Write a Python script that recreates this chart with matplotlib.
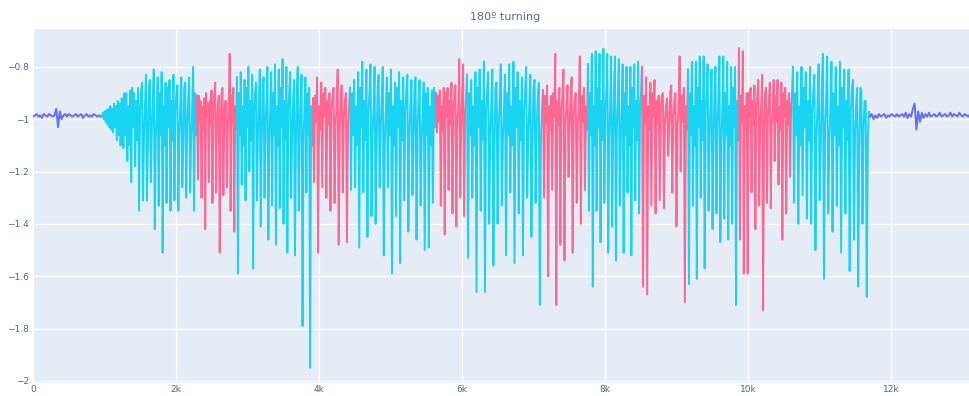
import numpy as np
import matplotlib.pyplot as plt

# segment edges (sample index) and colour of each segment between them
seg_edges = [1250, 2294, 2853, 3916, 4434, 5636, 6070, 7133, 7762, 8517, 9161, 9874, 10629, 11706]
seg_kind = ['cyan', 'pink', 'cyan', 'pink', 'cyan', 'pink', 'cyan', 'pink', 'cyan', 'pink', 'cyan', 'pink', 'cyan']

# spike troughs and peaks, one list per segment
troughs = [
    [-1.11, -1.16, -1.24, -1.18, -1.35, -1.31, -1.31, -1.24, -1.42, -1.33, -1.51, -1.32, -1.35, -1.31, -1.35, -1.26, -1.30, -1.28, -1.35],
    [-1.23, -1.30, -1.42, -1.24, -1.32, -1.28, -1.51, -1.29, -1.26, -1.35, -1.43],
    [-1.59, -1.25, -1.31, -1.20, -1.57, -1.31, -1.41, -1.30, -1.46, -1.33, -1.48, -1.34, -1.40, -1.51, -1.30, -1.52, -1.35, -1.79, -1.28, -1.95],
    [-1.24, -1.51, -1.26, -1.30, -1.35, -1.32, -1.48, -1.28, -1.47],
    [-1.27, -1.26, -1.49, -1.28, -1.45, -1.37, -1.40, -1.26, -1.52, -1.26, -1.59, -1.37, -1.55, -1.31, -1.43, -1.29, -1.46, -1.33, -1.50, -1.49, -1.32],
    [-1.05, -1.33, -1.44, -1.27, -1.36, -1.41, -1.30, -1.37],
    [-1.53, -1.30, -1.66, -1.35, -1.66, -1.40, -1.56, -1.40, -1.33, -1.52, -1.28, -1.55, -1.36, -1.52, -1.30, -1.45, -1.32, -1.71],
    [-1.30, -1.60, -1.27, -1.71, -1.48, -1.54, -1.22, -1.51, -1.32, -1.40, -1.27],
    [-1.35, -1.64, -1.35, -1.47, -1.32, -1.51, -1.41, -1.54, -1.33, -1.51, -1.28, -1.52, -1.31, -1.36],
    [-1.64, -1.67, -1.33, -1.36, -1.31, -1.34, -1.14, -1.28, -1.41, -1.20, -1.70],
    [-1.63, -1.33, -1.61, -1.30, -1.57, -1.35, -1.42, -1.36, -1.47, -1.38, -1.46, -1.40, -1.71],
    [-1.46, -1.59, -1.59, -1.28, -1.42, -1.33, -1.73, -1.32, -1.34, -1.16, -1.25, -1.46, -1.36, -1.22],
    [-1.32, -1.40, -1.29, -1.38, -1.40, -1.50, -1.31, -1.61, -1.36, -1.43, -1.33, -1.51, -1.36, -1.58, -1.46, -1.64, -1.40, -1.68],
]
peaks = [
    [-0.93, -0.90, -0.89, -0.90, -0.88, -0.86, -0.83, -0.85, -0.81, -0.84, -0.82, -0.86, -0.85, -0.83, -0.87, -0.84, -0.86, -0.84, -0.80],
    [-0.91, -0.93, -0.92, -0.94, -0.89, -0.86, -0.91, -0.88, -0.93, -0.75, -0.88],
    [-0.84, -0.82, -0.85, -0.80, -0.83, -0.86, -0.81, -0.84, -0.80, -0.82, -0.79, -0.81, -0.77, -0.80, -0.82, -0.85, -0.80, -0.83, -0.84, -0.88],
    [-0.92, -0.84, -0.86, -0.88, -0.90, -0.88, -0.81, -0.87, -0.90],
    [-0.88, -0.85, -0.82, -0.78, -0.81, -0.79, -0.80, -0.83, -0.80, -0.84, -0.81, -0.86, -0.82, -0.84, -0.83, -0.85, -0.84, -0.85, -0.86, -0.88, -0.89],
    [-0.90, -0.89, -0.88, -0.88, -0.86, -0.87, -0.77, -0.79],
    [-0.83, -0.85, -0.82, -0.81, -0.78, -0.82, -0.81, -0.86, -0.79, -0.83, -0.79, -0.78, -0.82, -0.84, -0.80, -0.83, -0.85, -0.86],
    [-0.89, -0.87, -0.91, -0.75, -0.88, -0.81, -0.87, -0.84, -0.90, -0.76, -0.88],
    [-0.79, -0.75, -0.74, -0.75, -0.73, -0.75, -0.76, -0.76, -0.77, -0.79, -0.80, -0.80, -0.79, -0.78],
    [-0.80, -0.84, -0.86, -0.85, -0.91, -0.90, -0.92, -0.87, -0.90, -0.76, -0.88],
    [-0.81, -0.78, -0.78, -0.76, -0.76, -0.79, -0.81, -0.80, -0.76, -0.76, -0.78, -0.80, -0.80],
    [-0.73, -0.74, -0.90, -0.88, -0.87, -0.85, -0.83, -0.88, -0.86, -0.85, -0.85, -0.86, -0.88, -0.90],
    [-0.80, -0.82, -0.80, -0.82, -0.80, -0.83, -0.79, -0.75, -0.76, -0.78, -0.80, -0.78, -0.81, -0.81, -0.85, -0.88, -0.89, -0.93],
]

# wiggles between spikes, used two at a time and running on through a segment
band = {
    'cyan': [-0.90, -1.06, -0.95, -1.10, -0.88, -1.03, -0.93, -1.08, -0.97],
    'pink': [-0.91, -1.01, -0.95, -1.04, -0.90, -0.99, -0.93, -1.02, -0.96],
}
band_per_spike = 2

# slow start of the first cyan part, one value every 13 samples from 965
ramp_start, ramp_step = 965, 13
ramp = [-0.99, -0.975, -1.0, -0.97, -1.01, -0.965, -1.02, -0.96, -1.03, -0.95, -1.04, -0.96,
        -1.05, -0.94, -1.03, -0.95, -1.08, -0.93, -1.06, -0.94, -1.10, -0.92]

# quiet parts at both ends, one value every 25 samples
blue_step = 25
blue_left = [-0.99, -0.985, -0.98, -0.99, -0.985, -0.995, -0.98, -0.985, -0.99, -0.98, -0.985, -0.99, -0.985,
             -0.96, -1.03, -0.97, -1.0, -0.985, -0.98, -0.99, -0.98, -0.985, -0.99, -0.985, -0.98, -0.99,
             -0.985, -0.98, -0.995, -0.985, -0.98, -0.99, -0.985, -0.99, -0.98, -0.985, -0.99, -0.985, -0.99]
blue_right = [-0.99, -0.98, -1.0, -0.985, -0.995, -0.98, -0.99, -0.985, -0.98, -0.995, -0.985, -0.99, -0.98,
              -0.985, -0.99, -0.98, -0.99, -0.985, -0.98, -0.99, -0.975, -0.995, -0.98, -0.99, -0.96, -0.94,
              -1.04, -0.97, -1.01, -0.975, -0.995, -0.98, -0.99, -0.975, -0.99, -0.985, -0.98, -0.99, -0.985,
              -0.975, -0.99, -0.985, -0.98, -0.99, -0.985, -0.975, -0.99, -0.98, -0.985, -0.99, -0.975, -0.985,
              -0.99, -0.98, -0.985, -0.99, -0.98, -0.985]

colors = {'blue': '#636EFA', 'cyan': '#19D3F3', 'pink': '#FF6692'}

xticks = [0, 2000, 4000, 6000, 8000, 10000, 12000]
xticklabels = ['0', '2k', '4k', '6k', '8k', '10k', '12k']
yticks = [-2, -1.8, -1.6, -1.4, -1.2, -1, -0.8]
yticklabels = ['\u22122', '\u22121.8', '\u22121.6', '\u22121.4', '\u22121.2', '\u22121', '\u22120.8']


def build_segment(i):
    kind = seg_kind[i]
    b = band[kind]
    vals = []
    k = 0
    for p, t in zip(peaks[i], troughs[i]):
        vals += [p, t]
        for _ in range(band_per_spike):
            vals.append(b[k % len(b)])
            k += 1
    x = np.linspace(seg_edges[i], seg_edges[i + 1], len(vals), endpoint=False)
    return x, np.array(vals)


fig = plt.figure(figsize=(9.7, 3.96), dpi=100)
ax = fig.add_axes([33 / 970, 13 / 396, 1 - 33 / 970, 354 / 396])
ax.set_facecolor('#E5ECF6')

pieces = []
pieces.append((np.arange(len(blue_left)) * blue_step, np.array(blue_left), 'blue'))
pieces.append((ramp_start + np.arange(len(ramp)) * ramp_step, np.array(ramp), 'cyan'))
for i in range(len(seg_kind)):
    x, y = build_segment(i)
    pieces.append((x, y, seg_kind[i]))
pieces.append((seg_edges[-1] + np.arange(len(blue_right)) * blue_step, np.array(blue_right), 'blue'))

for j, (x, y, kind) in enumerate(pieces):
    if j + 1 < len(pieces):
        # join to the first point of the next piece
        x = np.append(x, pieces[j + 1][0][0])
        y = np.append(y, pieces[j + 1][1][0])
    ax.plot(x, y, color=colors[kind], lw=1.4)

ax.set_xlim(0, 13105)
ax.set_ylim(-2.008, -0.655)
ax.set_xticks(xticks)
ax.set_xticklabels(xticklabels)
ax.set_yticks(yticks)
ax.set_yticklabels(yticklabels)
ax.grid(True, color='white', lw=1)
ax.set_axisbelow(True)
for s in ax.spines.values():
    s.set_visible(False)
ax.tick_params(length=0, labelsize=6.5, colors='#506784')
ax.tick_params(axis='x', pad=1.5)
ax.tick_params(axis='y', pad=3)

fig.text(505 / 970, 1 - 17 / 396, '180º turning', ha='center', va='center', fontsize=8, color='#5a6a85')

fig.savefig('out.png', dpi=100)
